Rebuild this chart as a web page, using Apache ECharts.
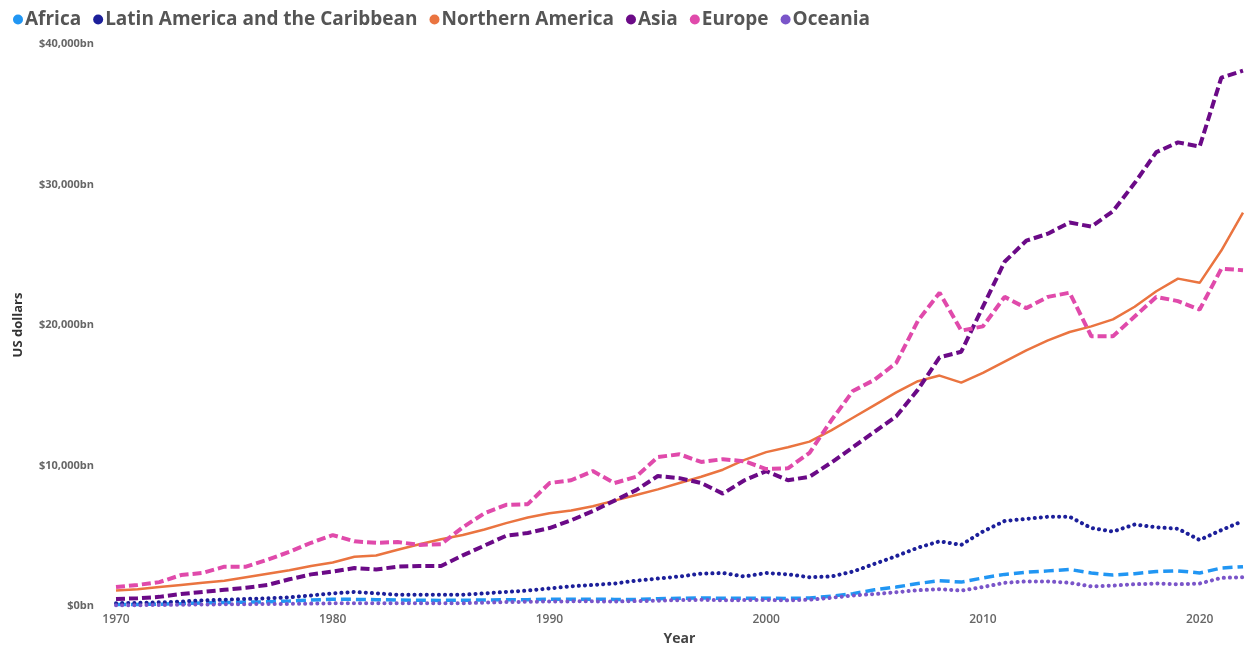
<!DOCTYPE html>
<html>
<head>
<meta charset="utf-8">
<script src="https://cdn.jsdelivr.net/npm/echarts@6/dist/echarts.min.js"></script>
<style>
  html, body { margin: 0; padding: 0; background: #ffffff; }
  #chart { width: 1248px; height: 648px; }
</style>
</head>
<body>
<div id="chart"></div>
<script>
// years on the x axis
var years = [];
for (var y = 1970; y <= 2022; y++) years.push(String(y));

// values in US$ billions
var africa = [100, 110, 130, 170, 220, 250, 270, 300, 350, 420,
  480, 470, 450, 430, 410, 400, 410, 430, 440, 450,
  480, 480, 490, 470, 460, 520, 550, 570, 550, 550,
  550, 540, 570, 700, 880, 1150, 1350, 1600, 1800, 1700,
  2000, 2250, 2400, 2500, 2600, 2350, 2200, 2300, 2450, 2500,
  2350, 2700, 2800];
var latinAmerica = [200, 220, 260, 320, 400, 450, 500, 550, 620, 750,
  900, 1000, 900, 800, 800, 800, 800, 900, 1000, 1100,
  1250, 1400, 1500, 1600, 1800, 1950, 2100, 2300, 2350, 2100,
  2350, 2250, 2050, 2100, 2450, 3000, 3550, 4150, 4600, 4350,
  5300, 6050, 6200, 6350, 6350, 5550, 5300, 5800, 5600, 5500,
  4700, 5400, 6050];
var northernAmerica = [1100, 1200, 1350, 1500, 1650, 1800, 2050, 2300, 2550, 2850,
  3100, 3500, 3600, 4000, 4400, 4750, 5050, 5450, 5900, 6300,
  6600, 6800, 7100, 7500, 7900, 8300, 8750, 9200, 9700, 10400,
  10950, 11300, 11700, 12500, 13400, 14300, 15200, 16000, 16400, 15900,
  16600, 17400, 18200, 18900, 19500, 19900, 20400, 21300, 22400, 23300,
  23000, 25300, 28000];
var asia = [500, 550, 650, 850, 1000, 1150, 1300, 1500, 1900, 2250,
  2450, 2700, 2600, 2800, 2850, 2850, 3600, 4300, 5000, 5200,
  5550, 6100, 6750, 7500, 8250, 9250, 9100, 8750, 8000, 8950,
  9600, 8950, 9200, 10200, 11300, 12400, 13500, 15400, 17700, 18100,
  21300, 24500, 26000, 26500, 27300, 27000, 28100, 30100, 32300, 33000,
  32700, 37600, 38100];
var europe = [1350, 1500, 1700, 2200, 2350, 2800, 2800, 3300, 3850, 4500,
  5050, 4600, 4500, 4550, 4350, 4400, 5600, 6600, 7200, 7250,
  8750, 8950, 9600, 8750, 9200, 10600, 10800, 10250, 10450, 10300,
  9750, 9800, 10900, 13200, 15300, 16100, 17300, 20300, 22300, 19600,
  19900, 22000, 21200, 22000, 22300, 19200, 19200, 20600, 22000, 21700,
  21100, 24000, 23900];
var oceania = [50, 60, 70, 90, 110, 120, 130, 140, 150, 170,
  190, 200, 200, 190, 200, 190, 200, 240, 280, 300,
  320, 330, 330, 320, 350, 380, 420, 440, 410, 420,
  430, 400, 450, 580, 750, 850, 980, 1120, 1200, 1100,
  1350, 1650, 1750, 1750, 1650, 1400, 1450, 1550, 1600, 1550,
  1600, 2000, 2050];

var chart = echarts.init(document.getElementById('chart'));

var mk = function (name, data, color, type, width, cap) {
  return {
    name: name,
    type: 'line',
    data: data,
    symbol: 'none',
    smooth: false,
    itemStyle: { color: color },
    lineStyle: { color: color, width: width, type: type, cap: cap || 'butt' }
  };
};

chart.setOption({
  animation: false,
  textStyle: { fontFamily: '"Open Sans", "Noto Sans", sans-serif' },
  legend: {
    left: 8,
    top: 5,
    icon: 'circle',
    itemWidth: 10,
    itemHeight: 10,
    itemGap: 12,
    textStyle: { fontSize: 19, fontWeight: 'bold', color: '#555555', padding: [0, 0, 0, -3] },
    data: ['Africa', 'Latin America and the Caribbean', 'Northern America', 'Asia', 'Europe', 'Oceania']
  },
  grid: { left: 116, right: 5, top: 44, bottom: 42, outerBoundsMode: 'none' },
  xAxis: {
    type: 'category',
    data: years,
    boundaryGap: false,
    name: 'Year',
    nameLocation: 'middle',
    nameGap: 26,
    nameTextStyle: { fontSize: 14, fontWeight: 'bold', color: '#444444' },
    axisLine: { show: false },
    axisTick: { show: false },
    axisLabel: { interval: 9, fontSize: 12, fontWeight: 600, color: '#666666', margin: 8 },
    splitLine: { show: false }
  },
  yAxis: {
    type: 'value',
    min: 0,
    max: 40000,
    interval: 10000,
    name: 'US dollars',
    nameLocation: 'middle',
    nameGap: 91,
    nameTextStyle: { fontSize: 13, fontWeight: 'bold', color: '#333333' },
    axisLine: { show: false },
    axisTick: { show: false },
    splitLine: { show: false },
    axisLabel: {
      fontSize: 11,
      fontWeight: 'bold',
      color: '#666666',
      margin: 22,
      formatter: function (v) { return '$' + v.toLocaleString('en-US') + 'bn'; }
    }
  },
  series: [
    mk('Africa', africa, '#2196f3', [10, 5], 3.5),
    mk('Latin America and the Caribbean', latinAmerica, '#1c1f9a', [0.1, 6], 4, 'round'),
    mk('Northern America', northernAmerica, '#ea7440', 'solid', 2.5),
    mk('Asia', asia, '#6b0a87', [9, 4], 4),
    mk('Europe', europe, '#e04aab', [9, 4], 4),
    mk('Oceania', oceania, '#7a55c9', [0.1, 6], 4, 'round')
  ]
});
</script>
</body>
</html>
